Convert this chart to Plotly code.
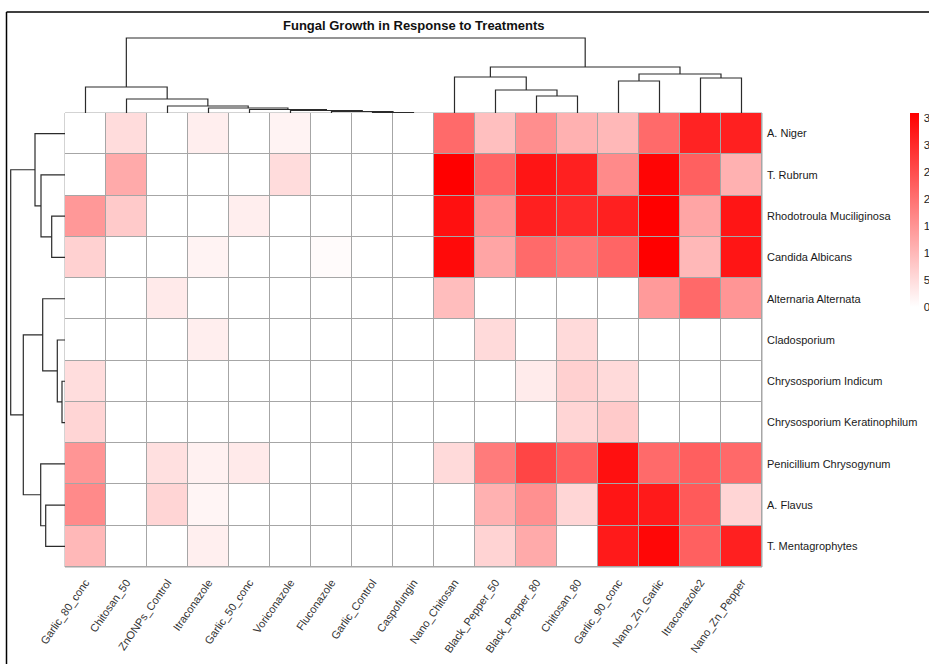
import plotly.graph_objects as go

W, H = 929, 664

# ---- data ---------------------------------------------------------------
treatments = [
    "Garlic_80_conc", "Chitosan_50", "ZnONPs_Control", "Itraconazole",
    "Garlic_50_conc", "Voriconazole", "Fluconazole", "Garlic_Control",
    "Caspofungin", "Nano_Chitosan", "Black_Pepper_50", "Black_Pepper_80",
    "Chitosan_80", "Garlic_90_conc", "Nano_Zn_Garlic", "Itraconazole2",
    "Nano_Zn_Pepper",
]

fungi = [
    "A. Niger", "T. Rubrum", "Rhodotroula Muciliginosa", "Candida Albicans",
    "Alternaria Alternata", "Cladosporium", "Chrysosporium Indicum",
    "Chrysosporium Keratinophilum", "Penicillium Chrysogynum", "A. Flavus",
    "T. Mentagrophytes",
]

a_niger        = [0, 5, 0, 2.4, 0, 1.7, 0, 0, 0, 21, 9, 16, 11, 10, 21, 31, 31.5]
t_rubrum       = [0, 12, 0, 0, 0, 5, 0, 0, 0, 36, 21.7, 33, 31.5, 16.5, 35.3, 22.4, 11]
rhodotroula    = [14.5, 7.5, 0, 0, 2.4, 0, 0, 0, 0, 33.7, 15.7, 31.5, 30, 31.5, 36, 12.7, 33]
candida        = [6.5, 0, 0, 1.7, 0, 0, 0.5, 0, 0, 34.6, 12.7, 21, 19.4, 21.7, 36, 10, 33]
alternaria     = [0, 0, 3, 0, 0, 0, 0, 0, 0, 9.3, 0, 0, 0, 0, 14.3, 21.2, 15]
cladosporium   = [0, 0, 0, 2.4, 0, 0, 0, 0, 0, 0, 5.2, 0, 5.2, 0, 0, 0, 0]
chryso_indicum = [4.8, 0, 0, 0, 0, 0, 0, 0, 0, 0, 0, 2.8, 6.6, 5.2, 0, 0, 0]
chryso_kerat   = [5.9, 0, 0, 0, 0, 0, 0, 0, 0, 0, 0, 0, 5.9, 7.5, 0, 0, 0]
penicillium    = [15, 0, 4.4, 2, 3, 0, 0, 0, 0, 5.2, 18.7, 26.3, 22.6, 33.7, 21, 22.6, 21.2]
a_flavus       = [16.5, 0, 5.9, 1.4, 0, 0, 0, 0, 0, 0, 11, 15.7, 5.8, 33, 32.3, 23.3, 5.9]
t_mentagro     = [10, 0, 0, 2.3, 0, 0, 0, 0, 0, 0, 6.2, 12, 0, 32.3, 35, 22.4, 31.5]

growth = [a_niger, t_rubrum, rhodotroula, candida, alternaria, cladosporium,
          chryso_indicum, chryso_kerat, penicillium, a_flavus, t_mentagro]

# hierarchical merges (child_a, child_b, distance); leaves are 0..n-1 in
# display order, merge k creates node n+k
col_merges = [
    (7, 8, 0.5), (6, 17, 1.5), (5, 18, 2.5), (4, 19, 3.5), (3, 20, 5),
    (2, 21, 7), (1, 22, 14), (0, 23, 26),
    (11, 12, 17), (10, 25, 23), (9, 26, 36),
    (13, 14, 32), (15, 16, 35), (28, 29, 39),
    (27, 30, 46), (24, 31, 75),
]
row_merges = [
    (2, 3, 13.3), (1, 11, 24), (0, 12, 30),
    (6, 7, 3), (5, 14, 7.7), (4, 15, 22.3),
    (9, 10, 19.3), (8, 17, 24.3),
    (16, 18, 41.7), (13, 19, 54.3),
]

colorbar_ticks = [0, 5, 10, 15, 20, 25, 30, 35]


def dendro_paths(merges, n_leaves):
    pos = {i: float(i) for i in range(n_leaves)}
    hgt = {i: 0.0 for i in range(n_leaves)}
    p, h = [], []
    for k, (a, b, d) in enumerate(merges):
        pa, pb = pos[a], pos[b]
        p += [pa, pa, pb, pb, None]
        h += [hgt[a], d, d, hgt[b], None]
        pos[n_leaves + k] = (pa + pb) / 2
        hgt[n_leaves + k] = d
    return p, h


FONT = "Liberation Sans, Arial, sans-serif"


# pixel layout helpers
def px(x):
    return x / W


def py(y):
    return 1 - y / H


hm_left, hm_right, hm_top, hm_bottom = 65, 762, 113, 567

fig = go.Figure()

fig.add_trace(go.Heatmap(
    z=growth,
    x=list(range(len(treatments))),
    y=list(range(len(fungi))),
    zmin=0, zmax=max(max(r) for r in growth),
    colorscale=[[0, "#FFFFFF"], [1, "#FF0000"]],
    xgap=1, ygap=1,
    hoverinfo="skip",
    colorbar=dict(
        x=px(910), xanchor="left", xpad=0,
        y=py(hm_top), yanchor="top", ypad=0,
        len=194, lenmode="pixels",
        thickness=9, thicknessmode="pixels",
        outlinewidth=0,
        ticks="outside", ticklen=3, tickcolor="rgba(0,0,0,0)",
        tickvals=colorbar_ticks,
        tickfont=dict(family=FONT, size=11.5, color="#222"),
    ),
    xaxis="x", yaxis="y",
))

cx, cy = dendro_paths(col_merges, len(treatments))
fig.add_trace(go.Scatter(x=cx, y=cy, mode="lines",
                         line=dict(color="#2b2b2b", width=1.2),
                         hoverinfo="skip", showlegend=False,
                         xaxis="x2", yaxis="y2"))

ry, rx = dendro_paths(row_merges, len(fungi))
fig.add_trace(go.Scatter(x=rx, y=ry, mode="lines",
                         line=dict(color="#2b2b2b", width=1.2),
                         hoverinfo="skip", showlegend=False,
                         xaxis="x3", yaxis="y3"))

n_c, n_r = len(treatments), len(fungi)

fig.update_layout(
    width=W, height=H,
    margin=dict(l=0, r=0, t=0, b=0, autoexpand=False),
    paper_bgcolor="white", plot_bgcolor="white",
    showlegend=False,
    xaxis=dict(domain=[px(hm_left), px(hm_right)], range=[-0.5, n_c - 0.5],
               anchor="y", tickvals=list(range(n_c)), ticktext=treatments,
               tickangle=-55, ticks="", showgrid=False, zeroline=False,
               ticklabelstandoff=6, automargin=False,
               tickfont=dict(family=FONT, size=11, color="#333")),
    yaxis=dict(domain=[py(hm_bottom), py(hm_top)], range=[n_r - 0.5, -0.5],
               anchor="x", side="right", tickvals=list(range(n_r)),
               ticktext=fungi, ticks="", showgrid=False, zeroline=False,
               ticklabelstandoff=4, automargin=False,
               tickfont=dict(family=FONT, size=11, color="#1a1a1a")),
    xaxis2=dict(domain=[px(hm_left), px(hm_right)], range=[-0.5, n_c - 0.5],
                anchor="y2", visible=False, automargin=False),
    yaxis2=dict(domain=[py(hm_top), py(35)], range=[0, 78],
                anchor="x2", visible=False, automargin=False),
    xaxis3=dict(domain=[px(8), px(hm_left)], range=[57, 0],
                anchor="y3", visible=False, automargin=False),
    yaxis3=dict(domain=[py(hm_bottom), py(hm_top)], range=[n_r - 0.5, -0.5],
                anchor="x3", visible=False, automargin=False),
    shapes=[
        # grey cell borders behind the heatmap gaps
        dict(type="rect", xref="x domain", yref="y domain",
             x0=0, x1=1, y0=0, y1=1, layer="below",
             fillcolor="#A6A6A6", line=dict(color="#A6A6A6", width=1)),
        # frame
        dict(type="line", xref="paper", yref="paper",
             x0=px(6.5), x1=1, y0=py(12), y1=py(12),
             line=dict(color="black", width=1.5)),
        dict(type="line", xref="paper", yref="paper",
             x0=px(6.5), x1=px(6.5), y0=py(12), y1=0,
             line=dict(color="black", width=1.5)),
    ],
    annotations=[
        dict(text="<b>Fungal Growth in Response to Treatments</b>",
             xref="paper", yref="paper", x=px(413.5), y=py(25),
             xanchor="center", yanchor="middle", showarrow=False,
             font=dict(family=FONT, size=13, color="#111")),
    ],
)

fig.write_html("out.html")
